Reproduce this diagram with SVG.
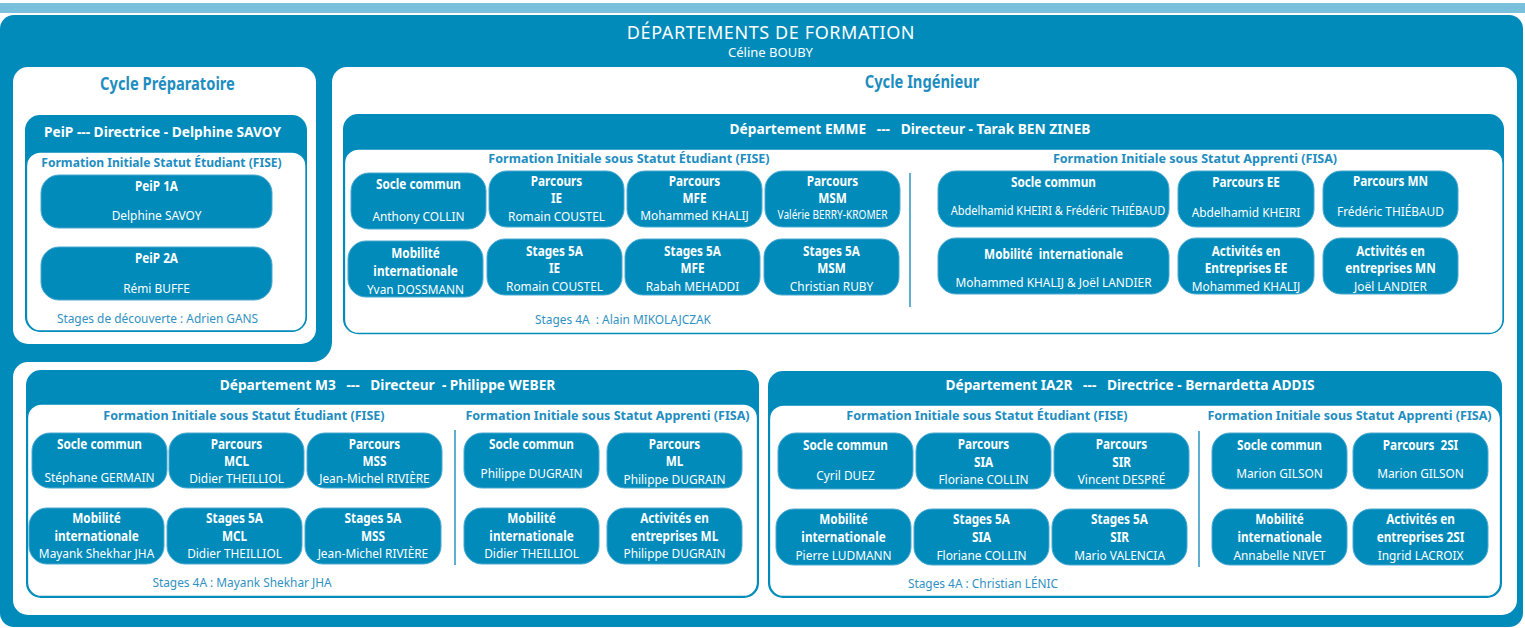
<svg xmlns="http://www.w3.org/2000/svg" width="1525" height="628" viewBox="0 0 1525 628">
<style>
text{font-family:'Noto Sans','Open Sans','DejaVu Sans',sans-serif;text-anchor:middle;dominant-baseline:central;transform-box:fill-box;transform-origin:center}
.bx{fill:#008bbb;stroke:#4aa9d0;stroke-width:1}
.dept{fill:#008bbb}
.inner{fill:#fff;stroke:#008bbb;stroke-width:1.3}
.hd{font-weight:700;font-size:15px;fill:#fff;transform:scaleX(0.915)}
.bt{font-weight:700;font-size:14px;fill:#fff;transform:scaleX(0.84)}
.nm{font-size:13.5px;fill:#fff;transform:scaleX(0.88)}
.nm2{font-size:13.5px;fill:#fff;transform:scaleX(0.82)}
.sm{font-size:12px;fill:#fff;transform:scaleX(0.84)}
.sec{font-weight:700;font-size:13px;fill:#1e8dbf;transform:scaleX(0.965)}
.sec2{font-weight:700;font-size:13px;fill:#1e8dbf;transform:scaleX(0.93)}
.cy{font-weight:700;font-size:17.5px;fill:#1e8dbf;transform:scaleX(0.84)}
.st{font-size:13.5px;fill:#2f91c2;transform:scaleX(0.88)}
.sep{stroke:#2a95c4;stroke-width:1.5}
</style>
<rect x="0" y="3" width="1525" height="10" fill="#78c0dc"/>
<rect x="0" y="15" width="1523" height="612" rx="14" fill="#008bbb"/>
<g id="title">
<text x="771" y="32" style="font-size:18px;letter-spacing:0.6px;fill:#fff">DÉPARTEMENTS DE FORMATION</text>
<text x="770.5" y="52" style="font-size:13px;fill:#fff">Céline BOUBY</text>
</g>
<rect x="13" y="67" width="303" height="277" rx="15" fill="#fff"/>
<path d="M347,67 H1502 A15,15 0 0 1 1517,82 V600 A15,15 0 0 1 1502,615 H28 A15,15 0 0 1 13,600 V377 A15,15 0 0 1 28,362 H312 A20,20 0 0 0 332,342 V82 A15,15 0 0 1 347,67 Z" fill="#fff"/>

<g id="cycle-prep">
<text x="167.5" y="84" class="cy">Cycle Préparatoire</text>
<rect x="25" y="115" width="282" height="217" rx="15" class="dept"/>
<text x="162.5" y="131" class="hd">PeiP --- Directrice - Delphine SAVOY</text>
<rect x="26.5" y="152" width="279.5" height="179" rx="14" class="inner"/>
<text x="161.5" y="162" class="sec2">Formation Initiale Statut Étudiant (FISE)</text>
<text x="157.5" y="318" class="st">Stages de découverte : Adrien GANS</text>
</g>
<g id="peip1a"><rect x="41" y="175" width="231" height="53" rx="18" class="bx"/><text x="156.5" y="185.5" class="bt">PeiP 1A</text><text x="156.5" y="215" class="nm">Delphine SAVOY</text></g>
<g id="peip2a"><rect x="41" y="247" width="231" height="53" rx="18" class="bx"/><text x="156.5" y="258" class="bt">PeiP 2A</text><text x="156.5" y="287.5" class="nm">Rémi BUFFE</text></g>

<g id="cycle-ing">
<text x="922" y="82" class="cy">Cycle Ingénieur</text>
<rect x="343" y="114" width="1161" height="220" rx="15" class="dept"/>
<text x="910" y="128" class="hd" xml:space="preserve">Département EMME   ---   Directeur - Tarak BEN ZINEB</text>
<rect x="344.5" y="149" width="1158.5" height="184.5" rx="14" class="inner"/>
<text x="629" y="158" class="sec">Formation Initiale sous Statut Étudiant (FISE)</text>
<text x="1195" y="158" class="sec">Formation Initiale sous Statut Apprenti (FISA)</text>
<text x="623" y="319" class="st" xml:space="preserve">Stages 4A  : Alain MIKOLAJCZAK</text>
</g>
<g id="emme-socle"><rect x="351" y="173" width="135" height="56" rx="18" class="bx"/><text x="418.5" y="184" class="bt">Socle commun</text><text x="418.5" y="216" class="nm">Anthony COLLIN</text></g>
<g id="emme-ie"><rect x="489" y="171" width="135" height="56" rx="18" class="bx"/><text x="556.5" y="181" class="bt">Parcours</text><text x="556.5" y="198" class="bt">IE</text><text x="556.5" y="216" class="nm">Romain COUSTEL</text></g>
<g id="emme-mfe"><rect x="627" y="171" width="135" height="56" rx="18" class="bx"/><text x="694.5" y="181" class="bt">Parcours</text><text x="694.5" y="198" class="bt">MFE</text><text x="694.5" y="215" class="nm">Mohammed KHALIJ</text></g>
<g id="emme-msm"><rect x="765" y="171" width="135" height="56" rx="18" class="bx"/><text x="832.5" y="181" class="bt">Parcours</text><text x="832.5" y="198" class="bt">MSM</text><text x="832.5" y="214" class="sm">Valérie BERRY-KROMER</text></g>
<g id="emme-mob"><rect x="348" y="241" width="135" height="56" rx="18" class="bx"/><text x="415.5" y="253" class="bt">Mobilité</text><text x="415.5" y="271" class="bt">internationale</text><text x="415.5" y="289" class="nm">Yvan DOSSMANN</text></g>
<g id="emme-s5-ie"><rect x="487" y="239" width="135" height="56" rx="18" class="bx"/><text x="554.5" y="251" class="bt">Stages 5A</text><text x="554.5" y="268" class="bt">IE</text><text x="554.5" y="286" class="nm">Romain COUSTEL</text></g>
<g id="emme-s5-mfe"><rect x="625" y="239" width="135" height="56" rx="18" class="bx"/><text x="692.5" y="251" class="bt">Stages 5A</text><text x="692.5" y="268" class="bt">MFE</text><text x="692.5" y="286" class="nm">Rabah MEHADDI</text></g>
<g id="emme-s5-msm"><rect x="764" y="239" width="135" height="56" rx="18" class="bx"/><text x="831.5" y="251" class="bt">Stages 5A</text><text x="831.5" y="268" class="bt">MSM</text><text x="831.5" y="286" class="nm">Christian RUBY</text></g>
<g id="emme-fisa-socle"><rect x="938" y="171" width="231" height="56" rx="18" class="bx"/><text x="1053.5" y="182" class="bt">Socle commun</text><text x="1058" y="210" class="nm2">Abdelhamid KHEIRI &amp; Frédéric THIÉBAUD</text></g>
<g id="emme-ee"><rect x="1178" y="171" width="136" height="56" rx="18" class="bx"/><text x="1246" y="182" class="bt">Parcours EE</text><text x="1246" y="212" class="nm">Abdelhamid KHEIRI</text></g>
<g id="emme-mn"><rect x="1323" y="171" width="135" height="56" rx="18" class="bx"/><text x="1390.5" y="181" class="bt">Parcours MN</text><text x="1390.5" y="211" class="nm">Frédéric THIÉBAUD</text></g>
<g id="emme-fisa-mob"><rect x="938" y="238" width="231" height="56" rx="18" class="bx"/><text x="1053.5" y="254" class="bt" xml:space="preserve">Mobilité  internationale</text><text x="1053.5" y="282" class="nm">Mohammed KHALIJ &amp; Joël LANDIER</text></g>
<g id="emme-ae-ee"><rect x="1178" y="238" width="136" height="56" rx="18" class="bx"/><text x="1246" y="251" class="bt">Activités en</text><text x="1246" y="268" class="bt">Entreprises EE</text><text x="1246" y="286" class="nm">Mohammed KHALIJ</text></g>
<g id="emme-ae-mn"><rect x="1323" y="238" width="135" height="56" rx="18" class="bx"/><text x="1390.5" y="251" class="bt">Activités en</text><text x="1390.5" y="268" class="bt">entreprises MN</text><text x="1390.5" y="286" class="nm">Joël LANDIER</text></g>

<g id="m3">
<rect x="26" y="370" width="733" height="228" rx="15" class="dept"/>
<text x="387.5" y="384" class="hd" xml:space="preserve">Département M3   ---   Directeur  - Philippe WEBER</text>
<rect x="27.5" y="404" width="730" height="192.5" rx="14" class="inner"/>
<text x="244" y="415" class="sec">Formation Initiale sous Statut Étudiant (FISE)</text>
<text x="607.5" y="415" class="sec">Formation Initiale sous Statut Apprenti (FISA)</text>
<text x="242" y="582" class="st">Stages 4A : Mayank Shekhar JHA</text>
</g>
<g id="m3-socle"><rect x="32" y="433" width="135" height="55" rx="18" class="bx"/><text x="99.5" y="444" class="bt">Socle commun</text><text x="99.5" y="477" class="nm">Stéphane GERMAIN</text></g>
<g id="m3-mcl"><rect x="169" y="433" width="135" height="55" rx="18" class="bx"/><text x="236.5" y="444" class="bt">Parcours</text><text x="236.5" y="461" class="bt">MCL</text><text x="236.5" y="478" class="nm">Didier THEILLIOL</text></g>
<g id="m3-mss"><rect x="307" y="433" width="135" height="55" rx="18" class="bx"/><text x="374.5" y="444" class="bt">Parcours</text><text x="374.5" y="461" class="bt">MSS</text><text x="374.5" y="478" class="nm">Jean-Michel RIVIÈRE</text></g>
<g id="m3-mob"><rect x="29" y="508" width="135" height="56" rx="18" class="bx"/><text x="96.5" y="518" class="bt">Mobilité</text><text x="96.5" y="536" class="bt">internationale</text><text x="96.5" y="553" class="nm">Mayank Shekhar JHA</text></g>
<g id="m3-s5-mcl"><rect x="167" y="508" width="135" height="56" rx="18" class="bx"/><text x="234.5" y="518" class="bt">Stages 5A</text><text x="234.5" y="536" class="bt">MCL</text><text x="234.5" y="553" class="nm">Didier THEILLIOL</text></g>
<g id="m3-s5-mss"><rect x="305" y="508" width="136" height="56" rx="18" class="bx"/><text x="373" y="518" class="bt">Stages 5A</text><text x="373" y="536" class="bt">MSS</text><text x="373" y="553" class="nm">Jean-Michel RIVIÈRE</text></g>
<g id="m3-fisa-socle"><rect x="464" y="433" width="135" height="55" rx="18" class="bx"/><text x="531.5" y="444" class="bt">Socle commun</text><text x="531.5" y="473" class="nm">Philippe DUGRAIN</text></g>
<g id="m3-ml"><rect x="607" y="433" width="135" height="55" rx="18" class="bx"/><text x="674.5" y="444" class="bt">Parcours</text><text x="674.5" y="461" class="bt">ML</text><text x="674.5" y="479" class="nm">Philippe DUGRAIN</text></g>
<g id="m3-fisa-mob"><rect x="464" y="508" width="135" height="56" rx="18" class="bx"/><text x="531.5" y="518" class="bt">Mobilité</text><text x="531.5" y="536" class="bt">internationale</text><text x="531.5" y="553" class="nm">Didier THEILLIOL</text></g>
<g id="m3-ae-ml"><rect x="607" y="508" width="135" height="56" rx="18" class="bx"/><text x="674.5" y="518" class="bt">Activités en</text><text x="674.5" y="536" class="bt">entreprises ML</text><text x="674.5" y="553" class="nm">Philippe DUGRAIN</text></g>

<g id="ia2r">
<rect x="768" y="371" width="734" height="227" rx="15" class="dept"/>
<text x="1130" y="384" class="hd" xml:space="preserve">Département IA2R   ---   Directrice - Bernardetta ADDIS</text>
<rect x="769.5" y="405" width="731" height="191.5" rx="14" class="inner"/>
<text x="987" y="415" class="sec">Formation Initiale sous Statut Étudiant (FISE)</text>
<text x="1349.5" y="415" class="sec">Formation Initiale sous Statut Apprenti (FISA)</text>
<text x="983" y="583" class="st">Stages 4A : Christian LÉNIC</text>
</g>
<g id="ia2r-socle"><rect x="778" y="433" width="135" height="56" rx="18" class="bx"/><text x="845.5" y="445" class="bt">Socle commun</text><text x="845.5" y="475" class="nm">Cyril DUEZ</text></g>
<g id="ia2r-sia"><rect x="916" y="433" width="135" height="56" rx="18" class="bx"/><text x="983.5" y="444" class="bt">Parcours</text><text x="983.5" y="461.5" class="bt">SIA</text><text x="983.5" y="479" class="nm">Floriane COLLIN</text></g>
<g id="ia2r-sir"><rect x="1054" y="433" width="135" height="56" rx="18" class="bx"/><text x="1121.5" y="444" class="bt">Parcours</text><text x="1121.5" y="461.5" class="bt">SIR</text><text x="1121.5" y="479" class="nm">Vincent DESPRÉ</text></g>
<g id="ia2r-mob"><rect x="776" y="509" width="135" height="56" rx="18" class="bx"/><text x="843.5" y="519" class="bt">Mobilité</text><text x="843.5" y="537" class="bt">internationale</text><text x="843.5" y="555" class="nm">Pierre LUDMANN</text></g>
<g id="ia2r-s5-sia"><rect x="914" y="509" width="135" height="56" rx="18" class="bx"/><text x="981.5" y="519" class="bt">Stages 5A</text><text x="981.5" y="537" class="bt">SIA</text><text x="981.5" y="555" class="nm">Floriane COLLIN</text></g>
<g id="ia2r-s5-sir"><rect x="1052" y="509" width="135" height="56" rx="18" class="bx"/><text x="1119.5" y="519" class="bt">Stages 5A</text><text x="1119.5" y="537" class="bt">SIR</text><text x="1119.5" y="555" class="nm">Mario VALENCIA</text></g>
<g id="ia2r-fisa-socle"><rect x="1212" y="433" width="135" height="56" rx="18" class="bx"/><text x="1279.5" y="445" class="bt">Socle commun</text><text x="1279.5" y="473" class="nm">Marion GILSON</text></g>
<g id="ia2r-2si"><rect x="1353" y="433" width="135" height="56" rx="18" class="bx"/><text x="1420.5" y="445" class="bt" xml:space="preserve">Parcours  2SI</text><text x="1420.5" y="473" class="nm">Marion GILSON</text></g>
<g id="ia2r-fisa-mob"><rect x="1212" y="509" width="135" height="56" rx="18" class="bx"/><text x="1279.5" y="519" class="bt">Mobilité</text><text x="1279.5" y="537" class="bt">internationale</text><text x="1279.5" y="555" class="nm">Annabelle NIVET</text></g>
<g id="ia2r-ae-2si"><rect x="1353" y="509" width="135" height="56" rx="18" class="bx"/><text x="1420.5" y="519" class="bt">Activités en</text><text x="1420.5" y="537" class="bt">entreprises 2SI</text><text x="1420.5" y="555" class="nm">Ingrid LACROIX</text></g>

<g id="connectors">
<line x1="910" y1="173" x2="910" y2="307" class="sep"/>
<line x1="455" y1="430" x2="455" y2="565" class="sep"/>
<line x1="1199" y1="431" x2="1199" y2="567" class="sep"/>
</g>
</svg>
